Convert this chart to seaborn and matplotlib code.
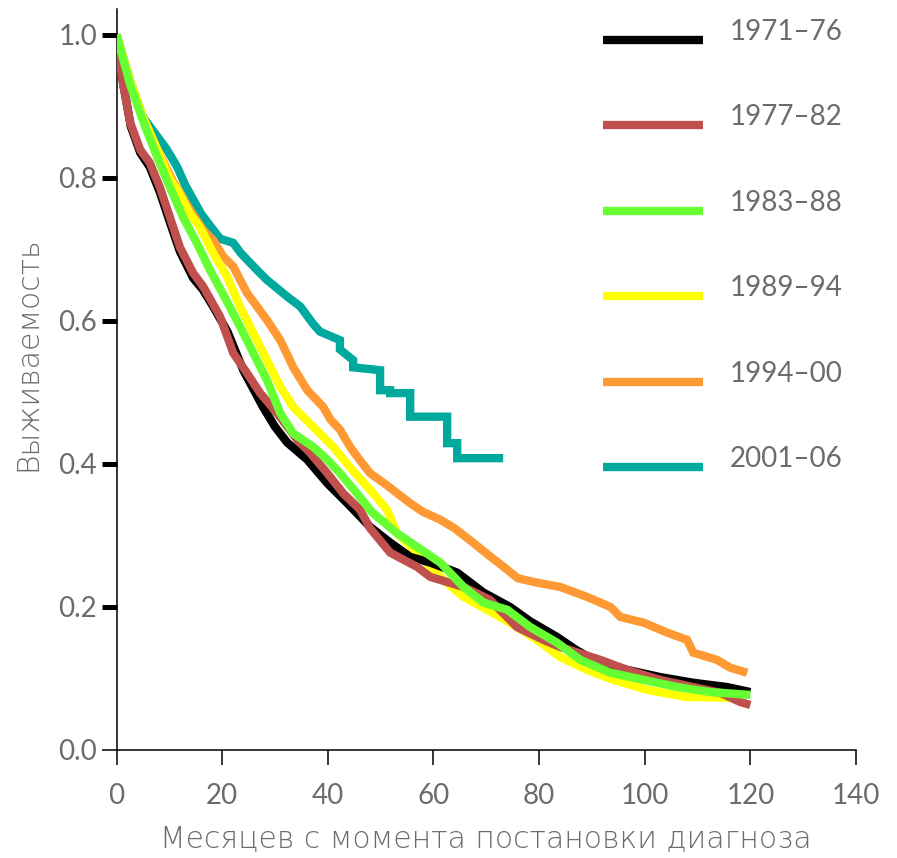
import numpy as np
import pandas as pd
import matplotlib
matplotlib.use("Agg")
import matplotlib.pyplot as plt
import seaborn as sns

# ---------------- data ----------------
labels = ["1971–76", "1977–82", "1983–88", "1989–94", "1994–00", "2001–06"]
colors = ["#000000", "#c0504d", "#66ff33", "#ffff00", "#ff9933", "#00a99d"]

m_7176 = [0, 1.3, 2.7, 4.5, 6.3, 8.2, 10.1, 12, 14.5, 16.4, 18.3, 21, 24, 27.7, 30, 32.3, 36.1, 39.9, 43.7,
          48, 51.8, 55.6, 59.4, 64.5, 69.5, 74.5, 78.3, 83.4, 87, 90.3, 96.7, 102.9, 109.2, 115.6, 120]
s_7176 = [1.0, 0.93, 0.872, 0.835, 0.815, 0.78, 0.738, 0.697, 0.66, 0.643, 0.62, 0.585, 0.531, 0.48, 0.452,
          0.43, 0.406, 0.373, 0.345, 0.312, 0.29, 0.27, 0.262, 0.248, 0.22, 0.2, 0.18, 0.158, 0.14, 0.126,
          0.112, 0.102, 0.094, 0.088, 0.081]

m_7782 = [0, 1.2, 2.6, 4.5, 6.3, 8.2, 10.1, 12, 14.5, 16.4, 19.6, 22.1, 24.7, 27.2, 30.4, 34.2, 36.7, 39.9,
          42.9, 46.1, 48, 51.8, 56.9, 59.4, 65.7, 70.7, 75.8, 80.8, 84, 87.8, 91.6, 96.7, 102.9, 109.2,
          114.3, 118.1, 120]
s_7782 = [1.0, 0.933, 0.877, 0.839, 0.821, 0.787, 0.745, 0.703, 0.667, 0.648, 0.606, 0.555, 0.527, 0.499,
          0.471, 0.434, 0.415, 0.387, 0.359, 0.336, 0.31, 0.276, 0.256, 0.242, 0.228, 0.21, 0.172, 0.154,
          0.144, 0.135, 0.126, 0.112, 0.098, 0.088, 0.08, 0.067, 0.063]

m_8388 = [0, 2.6, 5, 7.7, 10.1, 12.6, 15.2, 17.7, 20.2, 23.4, 25.9, 28.5, 31, 33.4, 37.2, 39.9, 42.3,
          45.5, 48.3, 53.1, 56.9, 61.3, 65.7, 69.5, 74, 78.3, 83.4, 87.8, 93.5, 99.8, 106.2, 112.4, 120]
s_8388 = [1.0, 0.93, 0.88, 0.829, 0.787, 0.745, 0.709, 0.671, 0.637, 0.592, 0.555, 0.517, 0.471,
          0.443, 0.424, 0.406, 0.387, 0.359, 0.333, 0.303, 0.284, 0.262, 0.228, 0.206, 0.196, 0.172, 0.15,
          0.126, 0.108, 0.098, 0.088, 0.081, 0.077]

m_8994 = [0, 2.6, 5, 7.7, 10, 11.5, 13.9, 15.8, 18.3, 20.9, 23.4, 25.9, 28.5, 31, 33.4, 37.2, 41, 44.8,
          48.6, 51.2, 53.1, 56.9, 61.9, 65.7, 70.2, 74.5, 79.6, 84, 89.1, 94.1, 100.5, 108, 118]
s_8994 = [1.0, 0.935, 0.885, 0.84, 0.8, 0.783, 0.75, 0.731, 0.695, 0.662, 0.62, 0.583, 0.545, 0.508, 0.48,
          0.452, 0.424, 0.39, 0.359, 0.336, 0.303, 0.276, 0.238, 0.214, 0.196, 0.178, 0.154, 0.13, 0.112,
          0.098, 0.084, 0.074, 0.073]

m_9400 = [0, 2.6, 5, 7.7, 10.7, 13.5, 16.4, 18.3, 20.2, 22.1, 24.7, 28.5, 31, 33.4, 36.1, 39.1, 40.5, 42.3,
          44.2, 46.1, 48, 51.2, 55.6, 58, 61.3, 64, 67.5, 70, 73.3, 76, 79.6, 84, 89.1, 93.5, 95.4, 99.8,
          104.3, 108, 109.2, 113.7, 116.2, 119.4]
s_9400 = [1.0, 0.935, 0.885, 0.84, 0.795, 0.76, 0.727, 0.713, 0.69, 0.676, 0.639, 0.601, 0.573, 0.536,
          0.503, 0.48, 0.462, 0.448, 0.424, 0.405, 0.387, 0.37, 0.345, 0.333, 0.322, 0.31, 0.29, 0.275,
          0.256, 0.24, 0.234, 0.228, 0.214, 0.2, 0.186, 0.178, 0.164, 0.154, 0.136, 0.126, 0.115, 0.108]

m_0106 = [0, 2.6, 5, 7.7, 9.5, 11.5, 13, 14.5, 16, 17.5, 19.6, 22.1, 23.5, 25.3, 27, 28.5, 30.5,
          32.3, 34.8, 37.2, 38.5, 42.3, 42.3, 44.8, 44.8, 49.9, 49.9, 51.8, 51.8, 55.6, 55.6, 56.9, 56.9,
          62.6, 62.6, 64.5, 64.5, 73.2]
s_0106 = [1.0, 0.935, 0.885, 0.858, 0.84, 0.815, 0.79, 0.77, 0.75, 0.735, 0.715, 0.709,
          0.695, 0.681, 0.668, 0.657, 0.645, 0.634, 0.62, 0.596, 0.585, 0.573, 0.56, 0.545, 0.535, 0.531,
          0.503, 0.503, 0.499, 0.499, 0.466, 0.466, 0.466, 0.466, 0.429, 0.429, 0.408, 0.408]

series_m = [m_7176, m_7782, m_8388, m_8994, m_9400, m_0106]
series_s = [s_7176, s_7782, s_8388, s_8994, s_9400, s_0106]

x_ticks = [0, 20, 40, 60, 80, 100, 120, 140]
y_ticks = [0.0, 0.2, 0.4, 0.6, 0.8, 1.0]
x_label = "Месяцев с момента постановки диагноза"
y_label = "Выживаемость"

# ---------------- style ----------------
sns.set_theme(style="white")
plt.rcParams["font.family"] = ["Lato", "DejaVu Sans"]
grey = "#6e6b6b"

fig = plt.figure(figsize=(8.97, 8.58), dpi=100)
ax = fig.add_axes([116.5 / 897, (858 - 750) / 858, (856 - 116.5) / 897, (750 - 9) / 858])

draw_order = [5, 4, 3, 0, 1, 2]
for i in draw_order:
    df = pd.DataFrame({"m": series_m[i], "s": series_s[i]})
    sns.lineplot(data=df, x="m", y="s", ax=ax, color=colors[i], linewidth=6, sort=False,
                 estimator=None, label=labels[i], zorder=2 + draw_order.index(i),
                 solid_joinstyle="miter", solid_capstyle="butt")

lines = {ln.get_label(): ln for ln in ax.get_lines()}
hl = [lines[l] for l in labels]

ax.set_xlim(0, 140)
ax.set_ylim(0, 1.036)
ax.set_xticks(x_ticks)
ax.set_yticks(y_ticks)
ax.set_xticklabels([str(t) for t in x_ticks])
ax.set_yticklabels([f"{t:.1f}" for t in y_ticks])

for sp in ["top", "right"]:
    ax.spines[sp].set_visible(False)
for sp in ["left", "bottom"]:
    ax.spines[sp].set_linewidth(1.1)
    ax.spines[sp].set_color("black")

ax.tick_params(axis="x", direction="out", length=11, width=1.1, color="black",
               labelsize=20, labelcolor=grey, pad=13, bottom=True)
ax.tick_params(axis="y", direction="out", length=11, width=3.6, color="black",
               labelsize=20, labelcolor=grey, pad=3, left=True)
ax.yaxis.get_major_ticks()[0].tick1line.set_markeredgewidth(1.1)

lab_font = dict(family=["DejaVu Sans"], fontsize=21.5, color=grey, fontweight="light")
ax.set_xlabel(x_label, labelpad=11, **lab_font)
ax.set_ylabel(y_label, **lab_font)
ax.yaxis.set_label_coords(-0.1, 0.535)

leg = ax.legend(hl, labels, loc="upper left", bbox_to_anchor=(603 / 897, (858 - 19) / 858),
                bbox_transform=fig.transFigure, frameon=False, fontsize=20,
                handlelength=3.6, handletextpad=0.95, labelspacing=2.14,
                borderpad=0, borderaxespad=0)
for t in leg.get_texts():
    t.set_color(grey)
for ln in leg.get_lines():
    ln.set_linewidth(6)
    ln.set_ydata(np.array(ln.get_ydata()) - 7)

fig.savefig("out.png", dpi=100)
